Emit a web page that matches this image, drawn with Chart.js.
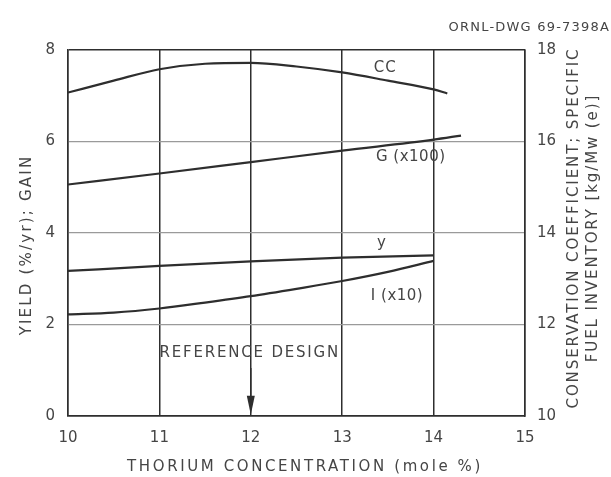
<!DOCTYPE html>
<html>
<head>
<meta charset="utf-8">
<script src="https://cdn.jsdelivr.net/npm/chart.js@4/dist/chart.umd.min.js"></script>
<style>
  html, body { margin: 0; padding: 0; background: #fff; }
  canvas { display: block; }
</style>
</head>
<body>
<canvas id="thoriumChart" width="611" height="477"></canvas>
<script>
// thorium concentration (mole %) for each curve
const ccX = [10, 10.5, 11, 11.5, 12, 12.5, 13, 13.5, 14, 14.15];
const gainX = [10, 11, 12, 13, 14, 14.3];
const yieldX = [10, 11, 12, 13, 14];
const inventoryX = [10, 10.5, 11, 11.5, 12, 12.5, 13, 13.5, 14];

// conservation coefficient, right axis
const ccValues = [17.07, 17.33, 17.58, 17.70, 17.72, 17.64, 17.51, 17.33, 17.14, 17.05];
// gain x 100, left axis
const gainValues = [5.06, 5.30, 5.55, 5.80, 6.04, 6.13];
// yield (%/yr), left axis
const yieldValues = [3.17, 3.28, 3.38, 3.46, 3.51];
// specific fuel inventory x 10, right axis
const inventoryValues = [12.22, 12.26, 12.35, 12.48, 12.62, 12.78, 12.95, 13.15, 13.39];

const xTicks = [10, 11, 12, 13, 14, 15];
const leftTicks = [0, 2, 4, 6, 8];
const rightTicks = [10, 12, 14, 16, 18];

const INK = "#2e2e2e";
const TEXT = "#454545";
const FONT = '"DejaVu Sans", sans-serif';

const toPoints = (xs, ys) => xs.map((x, i) => ({ x, y: ys[i] }));

const curve = (data, axis) => ({
  data,
  yAxisID: axis,
  borderColor: INK,
  borderWidth: 2.2,
  pointRadius: 0,
  tension: 0.4,
  cubicInterpolationMode: "monotone",
  fill: false,
});

function spacedText(ctx, text, x, y, spacing) {
  ctx.letterSpacing = spacing + "px";
  ctx.fillText(text, x, y);
  ctx.letterSpacing = "0px";
}

const textLayer = {
  id: "textLayer",
  afterDraw(chart) {
    const { ctx, scales } = chart;
    const x = scales.x;
    const y = scales.y;
    ctx.save();
    ctx.fillStyle = TEXT;
    ctx.textAlign = "center";
    ctx.textBaseline = "middle";

    // curve labels
    ctx.font = "15px " + FONT;
    spacedText(ctx, "CC", x.getPixelForValue(13.47), y.getPixelForValue(7.6), 1);
    spacedText(ctx, "G (x100)", x.getPixelForValue(13.75), y.getPixelForValue(5.65), 0.5);
    spacedText(ctx, "y", x.getPixelForValue(13.43), y.getPixelForValue(3.78), 0);
    spacedText(ctx, "I (x10)", x.getPixelForValue(13.6), y.getPixelForValue(2.62), 0.5);

    // reference design marker
    spacedText(ctx, "REFERENCE DESIGN", x.getPixelForValue(12.0) - 1, y.getPixelForValue(1.38), 1.8);
    const ax = x.getPixelForValue(12);
    const top = y.getPixelForValue(1.05);
    const tip = y.getPixelForValue(0.03);
    ctx.strokeStyle = INK;
    ctx.lineWidth = 1.5;
    ctx.beginPath();
    ctx.moveTo(ax, top);
    ctx.lineTo(ax, tip - 15);
    ctx.stroke();
    ctx.fillStyle = INK;
    ctx.beginPath();
    ctx.moveTo(ax - 4, tip - 19);
    ctx.lineTo(ax + 4, tip - 19);
    ctx.lineTo(ax, tip);
    ctx.closePath();
    ctx.fill();

    ctx.fillStyle = TEXT;
    // drawing number
    ctx.font = "13px " + FONT;
    ctx.textAlign = "right";
    spacedText(ctx, "ORNL-DWG 69-7398A", 610, 28, 1.2);

    // x axis title
    ctx.textAlign = "center";
    ctx.font = "15px " + FONT;
    spacedText(ctx, "THORIUM CONCENTRATION (mole %)", 305, 467, 2.6);

    // left axis title
    ctx.save();
    ctx.translate(27, 245);
    ctx.rotate(-Math.PI / 2);
    spacedText(ctx, "YIELD (%/yr); GAIN", 0, 0, 2.2);
    ctx.restore();

    // right axis title, two lines
    ctx.save();
    ctx.translate(574, 228);
    ctx.rotate(-Math.PI / 2);
    spacedText(ctx, "CONSERVATION COEFFICIENT; SPECIFIC", 0, 0, 1.9);
    spacedText(ctx, "FUEL INVENTORY [kg/Mw (e)]", 0, 19, 1.9);
    ctx.restore();

    ctx.restore();
  },
};

const tickFont = { family: FONT, size: 15 };

new Chart(document.getElementById("thoriumChart"), {
  type: "line",
  data: {
    datasets: [
      curve(toPoints(ccX, ccValues), "y2"),
      curve(toPoints(gainX, gainValues), "y"),
      curve(toPoints(yieldX, yieldValues), "y"),
      curve(toPoints(inventoryX, inventoryValues), "y2"),
    ],
  },
  options: {
    responsive: false,
    animation: false,
    devicePixelRatio: 1,
    layout: { padding: { top: 50, left: 0, right: 0, bottom: 0 } },
    plugins: { legend: { display: false }, tooltip: { enabled: false } },
    scales: {
      x: {
        type: "linear",
        min: 10,
        max: 15,
        afterBuildTicks: (s) => { s.ticks = xTicks.map((v) => ({ value: v })); },
        afterFit: (s) => { s.height = 61; },
        ticks: { font: tickFont, color: TEXT, padding: 13 },
        grid: { color: INK, lineWidth: 1.5, drawTicks: false },
        border: { display: true, color: INK, width: 1.5 },
      },
      y: {
        position: "left",
        min: 0,
        max: 8,
        afterBuildTicks: (s) => { s.ticks = leftTicks.map((v) => ({ value: v })); },
        afterFit: (s) => { s.width = 68; },
        ticks: { font: tickFont, color: TEXT, padding: 13 },
        grid: {
          drawTicks: false,
          color: (c) => (c.tick && (c.tick.value === 0 || c.tick.value === 8) ? INK : "#9a9a9a"),
          lineWidth: (c) => (c.tick && (c.tick.value === 0 || c.tick.value === 8) ? 1.5 : 1.2),
        },
        border: { display: true, color: INK, width: 1.5 },
      },
      y2: {
        position: "right",
        min: 10,
        max: 18,
        afterBuildTicks: (s) => { s.ticks = rightTicks.map((v) => ({ value: v })); },
        afterFit: (s) => { s.width = 86; },
        ticks: { font: tickFont, color: TEXT, padding: 12 },
        grid: { display: false, drawTicks: false },
        border: { display: true, color: INK, width: 1.5 },
      },
    },
  },
  plugins: [textLayer],
});
</script>
</body>
</html>
